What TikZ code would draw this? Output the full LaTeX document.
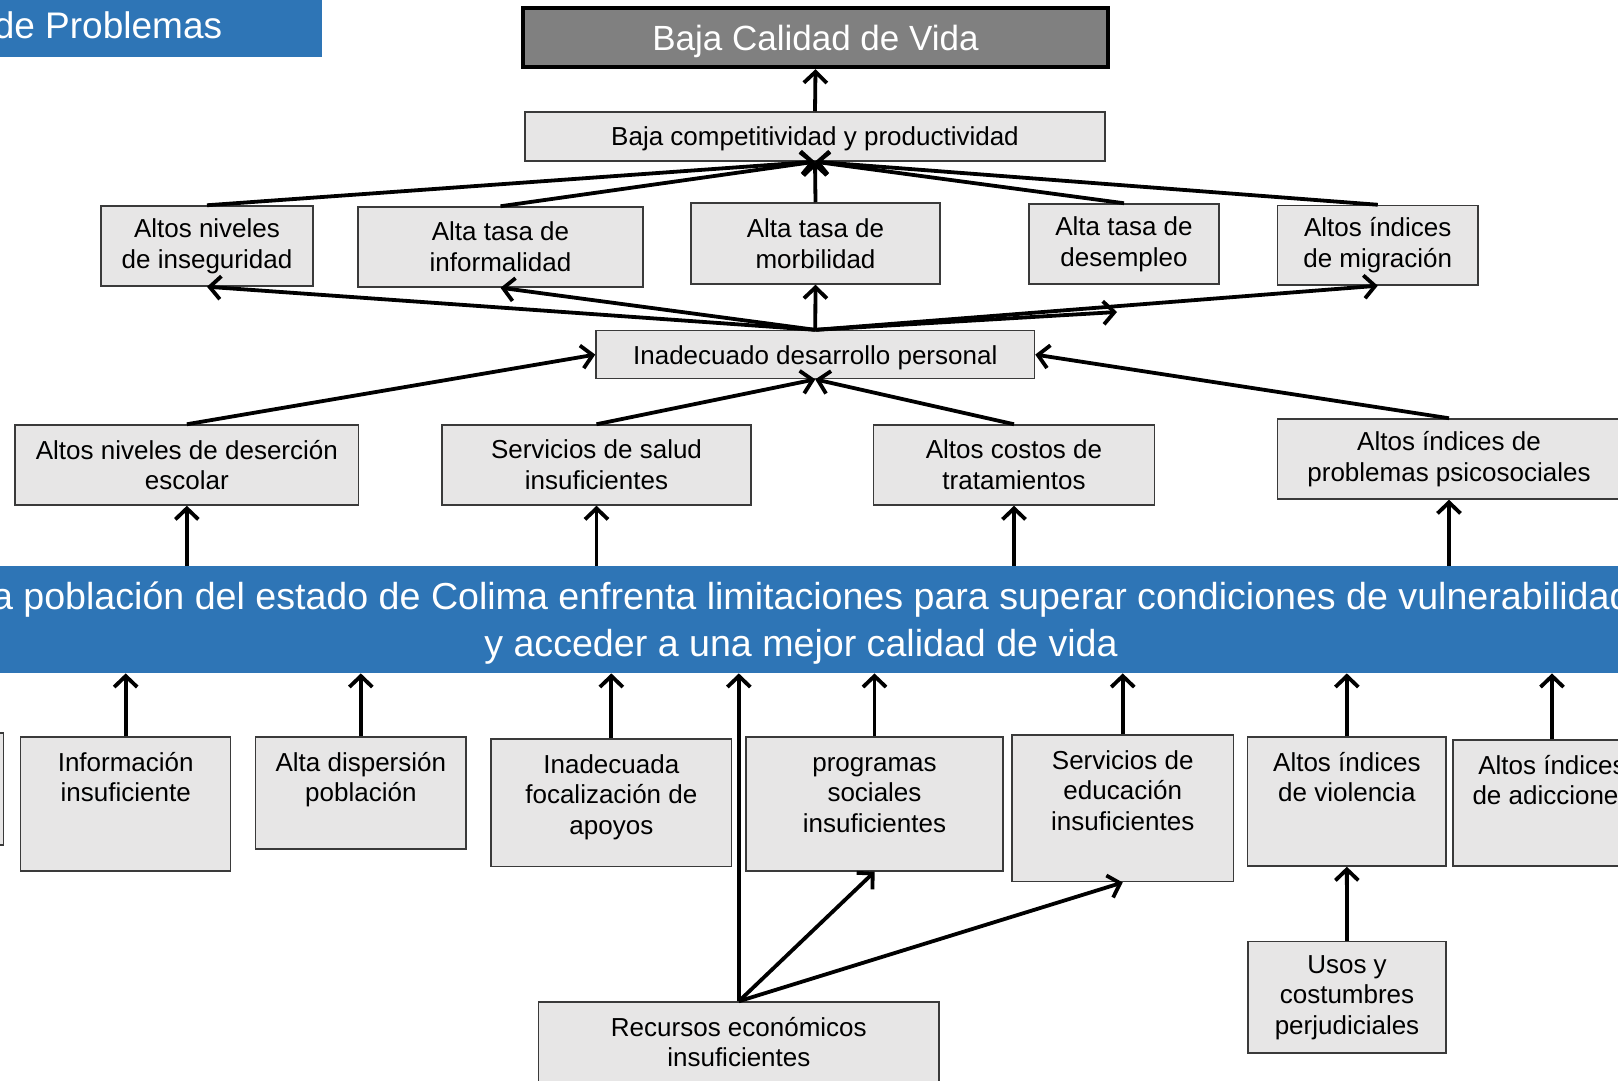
\documentclass[tikz,border=0pt]{standalone}
\usepackage{fontspec}
\setmainfont{Liberation Sans}
\usetikzlibrary{arrows.meta}
\definecolor{bandblue}{HTML}{2E75B6}
\definecolor{boxfill}{HTML}{E7E6E6}
\definecolor{boxline}{HTML}{3A3A3A}
\definecolor{topgray}{HTML}{808080}
\newcommand{\tbx}[3]{\parbox[c][#2][t]{#1}{\centering\rule{0pt}{17pt}#3}}
\tikzset{
  box/.style={draw=boxline, fill=boxfill, line width=0.75pt, inner sep=0pt, align=center, font=\fontsize{13}{15.3}\selectfont},
  topbox/.style={draw=boxline, fill=boxfill, line width=0.75pt, inner sep=0pt, font=\fontsize{13}{15.3}\selectfont},
  arr/.style={line width=1.9pt, -{Straight Barb[length=5.5pt,width=11.5pt]}},
}
\begin{document}
\begin{tikzpicture}[x=0.5pt,y=-0.5pt]
\useasboundingbox (0,0) rectangle (1618,1081);
\clip (0,0) rectangle (1618,1081);
\fill[white] (0,0) rectangle (1618,1081);

% title
\node[fill=bandblue, text=white, inner sep=0pt, minimum width=214pt, minimum height=31.5pt, text depth=0pt, font=\fontsize{18.5}{22}\selectfont] (title) at (108,25.5) {de Problemas};

% top
\node[draw=black, line width=2.25pt, fill=topgray, text=white, inner sep=0pt, minimum width=292.5pt, minimum height=29.5pt, text depth=0pt, font=\fontsize{17.5}{21}\selectfont] (baja) at (815.5,37.5) {Baja Calidad de Vida};
\node[box, minimum width=290pt, minimum height=24.5pt, text depth=0pt] (comp) at (815,136.5) {Baja competitividad y productividad};

% row 2
\node[box, minimum width=106pt, minimum height=40pt] (inseg) at (207,246) {Altos niveles\\de inseguridad};
\node[box, minimum width=142.5pt, minimum height=40pt] (informal) at (500.5,247) {Alta tasa de\\informalidad};
\node[box, minimum width=124.5pt, minimum height=40.5pt] (morb) at (815.5,243.5) {Alta tasa de\\morbilidad};
\node[box, minimum width=95pt, minimum height=40pt] (desemp) at (1124,244) {Alta tasa de\\desempleo};
\node[box, minimum width=100.25pt, minimum height=39.75pt] (migr) at (1377.75,245.25) {Altos índices\\de migración};
\coordinate (dfree) at (1117,312);

\node[box, minimum width=219.25pt, minimum height=24pt, text depth=0pt] (inad) at (815.25,354.6) {Inadecuado desarrollo personal};

% row 3
\node[box, minimum width=171.85pt, minimum height=40pt] (deser) at (186.85,465) {Altos niveles de deserción\\escolar};
\node[box, minimum width=154.5pt, minimum height=40pt] (salud) at (596.5,465) {Servicios de salud\\insuficientes};
\node[box, minimum width=140.5pt, minimum height=40pt] (trat) at (1014,465) {Altos costos de\\tratamientos};
\node[box, minimum width=171.5pt, minimum height=40pt] (psico) at (1449,459) {Altos índices de\\problemas psicosociales};

% band
\node[fill=bandblue, text=white, inner sep=0pt, minimum width=821pt, minimum height=53.5pt, align=center, font=\fontsize{18.8}{23.5}\selectfont] (band) at (801,619.5) {\rule{0pt}{17pt}La población del estado de Colima enfrenta limitaciones para superar condiciones de vulnerabilidad\\y acceder a una mejor calidad de vida};

% bottom row
\node[topbox, minimum width=51.65pt, minimum height=56pt] (lpart) at (-48.35,789) {};
\node[topbox] (info) at (125.7,804) {\tbx{105pt}{67pt}{Información\\insuficiente}};
\node[topbox] (disp) at (360.85,793) {\tbx{105.15pt}{56pt}{Alta dispersión\\población}};
\node[topbox] (focal) at (611.35,802.85) {\tbx{120.35pt}{63.85pt}{Inadecuada\\focalización de\\apoyos}};
\node[topbox] (prog) at (874.5,804) {\tbx{128.5pt}{67pt}{programas\\sociales\\insuficientes}};
\node[topbox] (educ) at (1122.75,808.35) {\tbx{110.75pt}{73.35pt}{Servicios de\\educación\\insuficientes}};
\node[topbox] (viol) at (1346.85,801.5) {\tbx{99.15pt}{64.5pt}{Altos índices\\de violencia}};
\node[topbox] (adic) at (1552,803) {\tbx{99pt}{63pt}{Altos índices\\de adicciones}};
\node[box, minimum width=99pt, minimum height=55.65pt] (usos) at (1347,997.35) {Usos y\\costumbres\\perjudiciales};
\node[topbox] (recur) at (738.85,1051) {\tbx{200.15pt}{49pt}{Recursos económicos\\insuficientes}};

% arrows top part
\draw[arr] (comp.north) -- (baja.south);
\foreach \n in {inseg,informal,morb,desemp,migr} \draw[arr] (\n.north) -- (comp.south);
\foreach \n in {inseg,informal,morb,migr} \draw[arr] (inad.north) -- (\n.south);
\draw[arr] (inad.north) -- (dfree);
\draw[arr] (deser.north) -- (inad.west);
\draw[arr] (salud.north) -- (inad.south);
\draw[arr] (trat.north) -- (inad.south);
\draw[arr] (psico.north) -- (inad.east);
\foreach \n in {deser,salud,trat,psico} \draw[arr] (\n.south |- band.north) -- (\n.south);

% arrows bottom part
\foreach \n in {info,disp,focal,prog,educ,viol,adic} \draw[arr] (\n.north) -- (\n.north |- band.south);
\draw[arr] (recur.north) -- (recur.north |- band.south);
\draw[arr] (recur.north) -- (prog.south);
\draw[arr] (recur.north) -- (educ.south);
\draw[arr] (usos.north) -- (viol.south);
\end{tikzpicture}
\end{document}
